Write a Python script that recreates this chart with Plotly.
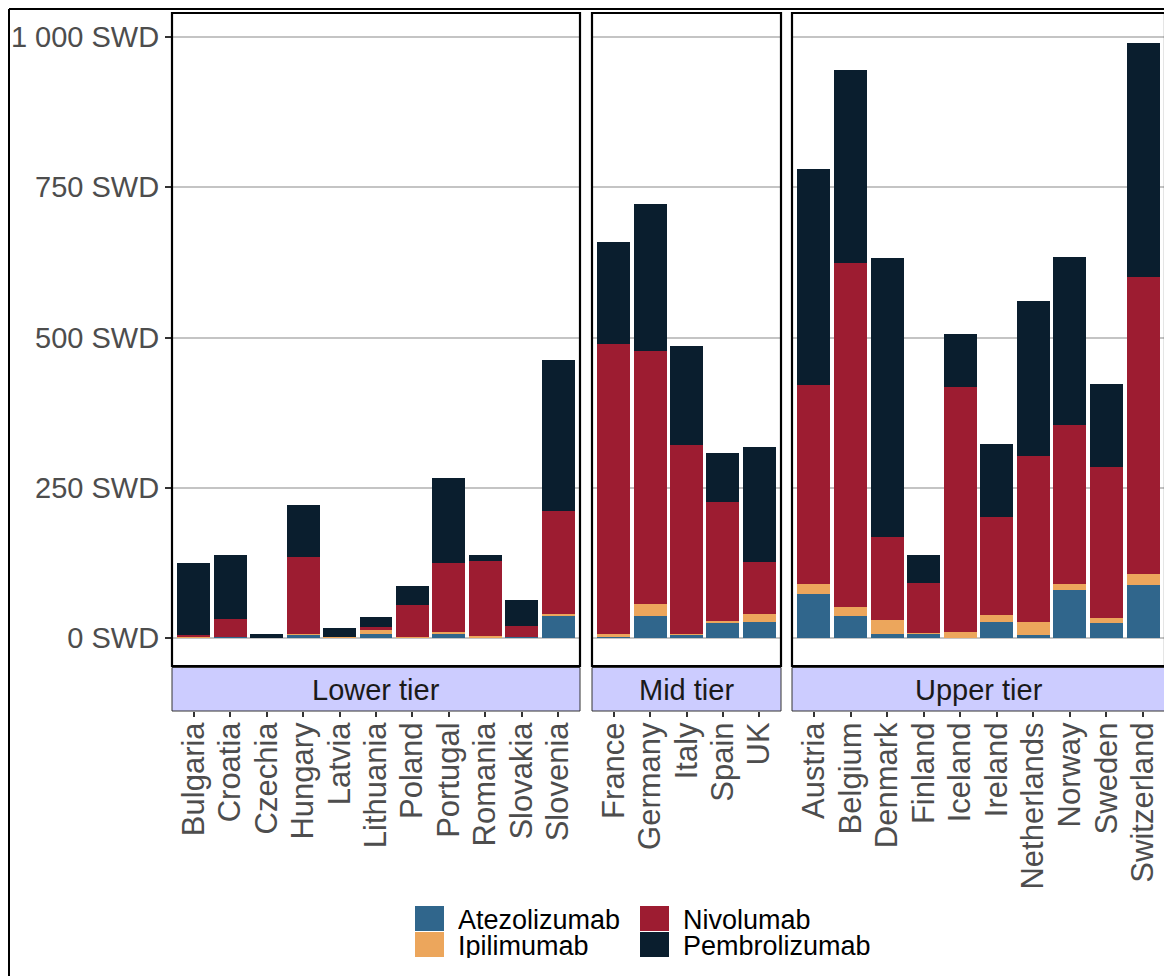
import plotly.graph_objects as go
from plotly.subplots import make_subplots

# the page keeps an 8px body margin, so the figure is drawn 8px smaller
OFF = 8
W, H = 1172 - OFF, 976 - OFF
FONT = "Arial, 'Liberation Sans', sans-serif"

DRUGS = ["Atezolizumab", "Ipilimumab", "Nivolumab", "Pembrolizumab"]
COLORS = {
    "Atezolizumab": "#30668C",
    "Ipilimumab": "#ECA65C",
    "Nivolumab": "#9D1C31",
    "Pembrolizumab": "#0A1E2E",
}

TIERS = ["Lower tier", "Mid tier", "Upper tier"]

lower_countries = ["Bulgaria", "Croatia", "Czechia", "Hungary", "Latvia", "Lithuania",
                   "Poland", "Portugal", "Romania", "Slovakia", "Slovenia"]
lower_atezo = [0, 2, 0, 5, 0, 7, 0, 8, 0, 2, 38]
lower_ipi = [2, 0, 0, 2, 1, 6, 2, 2, 3, 0, 2]
lower_nivo = [3, 30, 0, 128, 0, 5, 53, 115, 125, 18, 171]
lower_pembro = [120, 106, 7, 86, 16, 17, 32, 141, 10, 43, 252]

mid_countries = ["France", "Germany", "Italy", "Spain", "UK"]
mid_atezo = [2, 37, 5, 25, 27]
mid_ipi = [5, 20, 2, 3, 13]
mid_nivo = [482, 421, 314, 198, 86]
mid_pembro = [170, 244, 165, 82, 192]

upper_countries = ["Austria", "Belgium", "Denmark", "Finland", "Iceland", "Ireland",
                   "Netherlands", "Norway", "Sweden", "Switzerland"]
upper_atezo = [73, 37, 7, 7, 0, 27, 5, 80, 25, 88]
upper_ipi = [17, 15, 23, 1, 10, 11, 22, 10, 8, 18]
upper_nivo = [331, 572, 138, 84, 408, 163, 276, 264, 252, 495]
upper_pembro = [359, 321, 464, 46, 88, 122, 258, 280, 138, 389]

y_ticks = [0, 250, 500, 750, 1000]
y_ticktext = ["0 SWD", "250 SWD", "500 SWD", "750 SWD", "1 000 SWD"]

panels = [
    (lower_countries, [lower_atezo, lower_ipi, lower_nivo, lower_pembro]),
    (mid_countries, [mid_atezo, mid_ipi, mid_nivo, mid_pembro]),
    (upper_countries, [upper_atezo, upper_ipi, upper_nivo, upper_pembro]),
]

# screen geometry of the panels (left, right) and of the plot area (top, bottom)
panel_px = [(172, 580), (592, 781), (792, 1165)]
top_px, bottom_px = 13, 666
strip_bottom_px = 711


def px_x(v):
    return (v - OFF) / W


def px_y(v):
    return 1 - (v - OFF) / H


fig = make_subplots(rows=1, cols=3, shared_yaxes=True)

for col, (countries, series) in enumerate(panels, start=1):
    for drug, vals in zip(DRUGS, series):
        fig.add_trace(go.Bar(
            x=countries, y=vals, name=drug,
            marker=dict(color=COLORS[drug], line=dict(width=0)),
            showlegend=False,
            hovertemplate=f"{drug}<br>%{{x}}: %{{y}}<extra></extra>",
        ), row=1, col=col)

fig.update_layout(
    width=W, height=H,
    margin=dict(l=0, r=0, t=0, b=0),
    paper_bgcolor="white",
    plot_bgcolor="white",
    barmode="stack",
    bargap=0.1,
    font=dict(family=FONT, size=28, color="#4D4D4D"),
)

for i, ((countries, _), (x0, x1)) in enumerate(zip(panels, panel_px), start=1):
    xname = "xaxis" if i == 1 else f"xaxis{i}"
    yname = "yaxis" if i == 1 else f"yaxis{i}"
    fig.layout[xname].update(
        domain=[px_x(x0), px_x(x1)],
        range=[-0.6, len(countries) - 0.4],
        anchor="free",
        position=px_y(strip_bottom_px),
        tickmode="array", tickvals=countries, ticktext=countries,
        showgrid=False, zeroline=False, showline=False,
        ticks="outside", ticklen=5, tickwidth=1.5, tickcolor="#333333",
        tickangle=-90, ticklabelstandoff=-7,
        tickfont=dict(family=FONT, size=31, color="#4D4D4D"),
        automargin=False,
    )
    fig.layout[yname].update(
        domain=[px_y(bottom_px), px_y(top_px)],
        range=[-46.6, 1040],
        tickvals=y_ticks,
        ticktext=y_ticktext,
        showgrid=True, gridcolor="#C4C4C4", gridwidth=1.6,
        zeroline=False, showline=False,
        automargin=False,
    )
    if i == 1:
        fig.layout[yname].update(
            ticks="outside", ticklen=6, tickwidth=1.5, tickcolor="#333333",
            tickfont=dict(family=FONT, size=29, color="#4D4D4D"),
        )
    else:
        fig.layout[yname].update(showticklabels=False, ticks="")

    # panel border
    fig.add_shape(type="rect", xref="paper", yref="paper",
                  x0=px_x(x0), x1=px_x(x1), y0=px_y(bottom_px), y1=px_y(top_px),
                  line=dict(color="black", width=2.2), fillcolor="rgba(0,0,0,0)", layer="above")
    # facet strip
    fig.add_shape(type="rect", xref="paper", yref="paper",
                  x0=px_x(x0), x1=px_x(x1), y0=px_y(strip_bottom_px), y1=px_y(bottom_px + 1.5),
                  line=dict(color="#333333", width=1), fillcolor="#CCCCFF")
    fig.add_annotation(x=px_x((x0 + x1) / 2), y=px_y((bottom_px + strip_bottom_px) / 2 + 1),
                       xref="paper", yref="paper", text=TIERS[i - 1], showarrow=False,
                       xanchor="center", yanchor="middle",
                       font=dict(family=FONT, size=29, color="#1A1A1A"))

# outer frame (top and left edges of the plot background)
fig.add_shape(type="line", xref="paper", yref="paper",
              x0=px_x(9), x1=1, y0=px_y(9), y1=px_y(9), line=dict(color="black", width=2))
fig.add_shape(type="line", xref="paper", yref="paper",
              x0=px_x(9), x1=px_x(9), y0=px_y(9), y1=0, line=dict(color="black", width=2))

# legend, two columns
legend_items = [
    ("Atezolizumab", 415, 906),
    ("Ipilimumab", 415, 932),
    ("Nivolumab", 640, 906),
    ("Pembrolizumab", 640, 932),
]
for drug, lx, ly in legend_items:
    fig.add_shape(type="rect", xref="paper", yref="paper",
                  x0=px_x(lx), x1=px_x(lx + 29), y0=px_y(ly + 25), y1=px_y(ly),
                  line=dict(width=0), fillcolor=COLORS[drug])
    fig.add_annotation(x=px_x(lx + 42), y=px_y(ly + 14), xref="paper", yref="paper",
                       text=drug, showarrow=False, xanchor="left", yanchor="middle",
                       height=24, borderpad=0,
                       font=dict(family=FONT, size=27, color="black"))

fig.write_html("out.html")
